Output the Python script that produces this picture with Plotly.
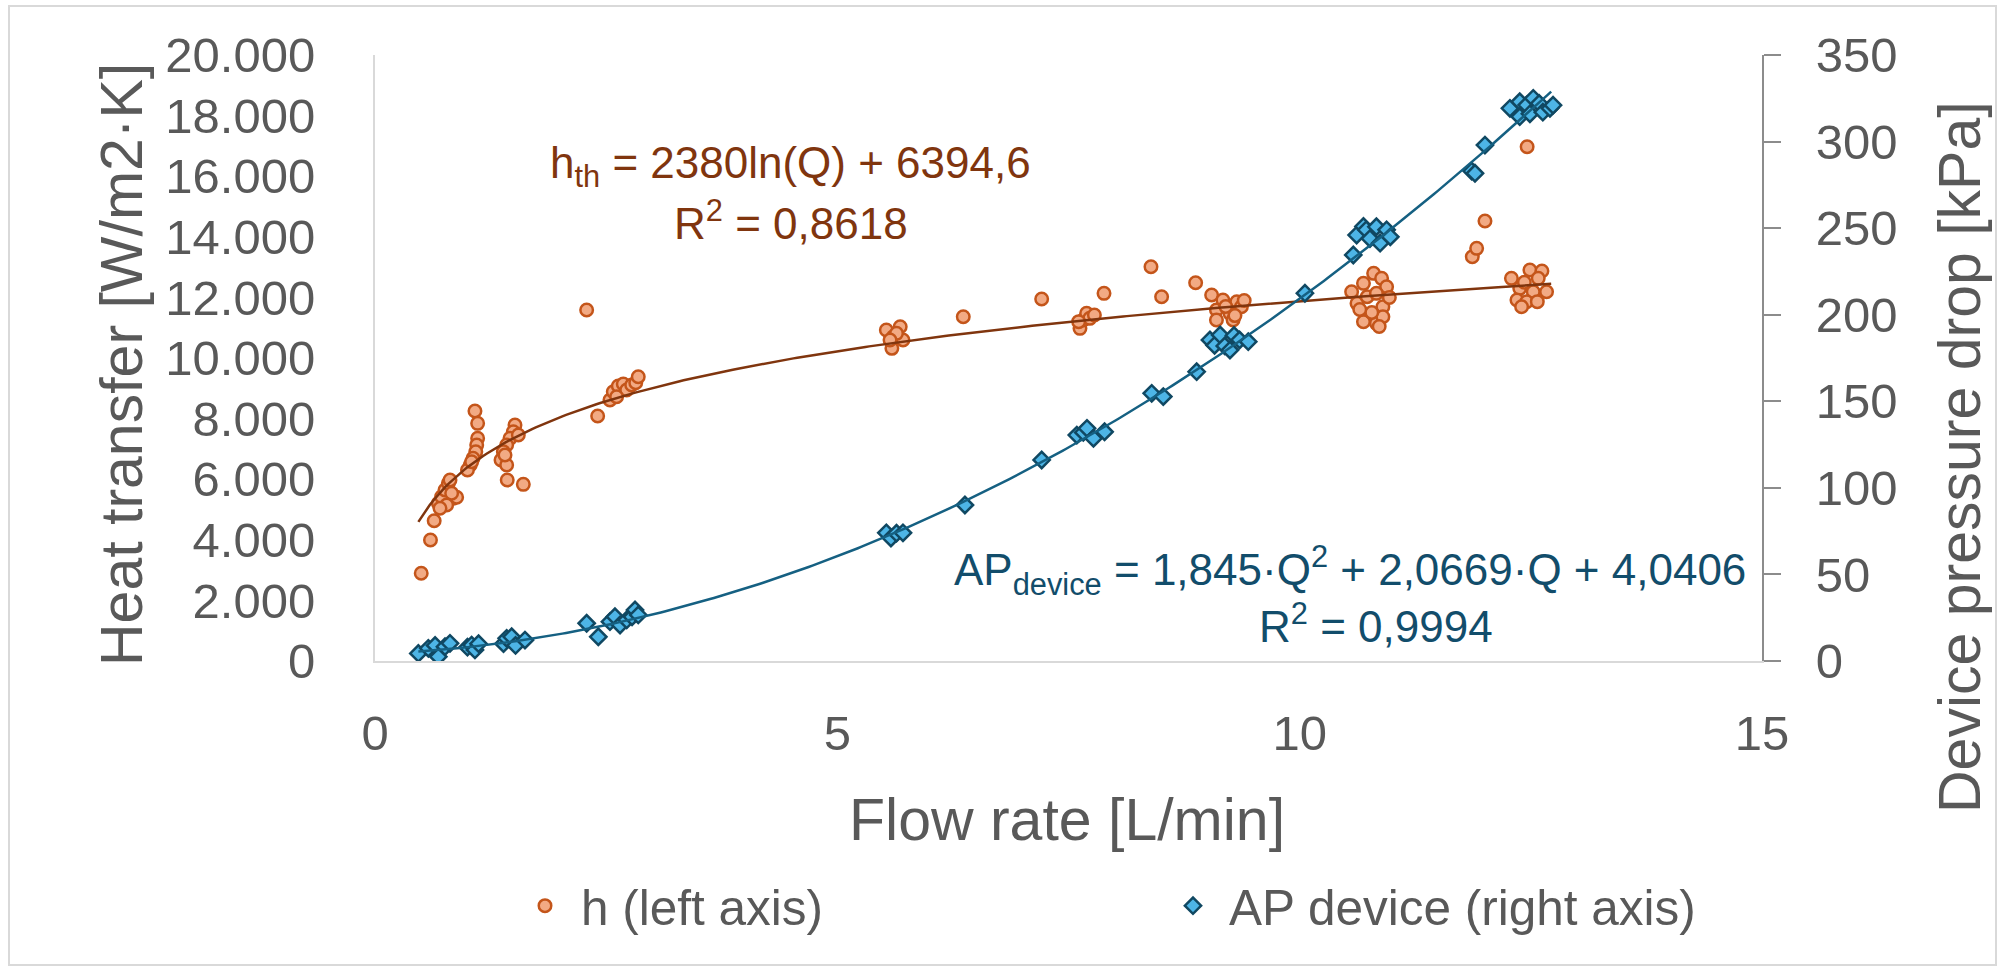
import numpy as np
import plotly.graph_objects as go

# Heat transfer coefficient h [W/m2·K] vs flow rate Q [L/min] (left axis)
h_flow = [0.50, 0.60, 0.64, 0.685, 0.72, 0.757, 0.793, 0.811, 0.847, 0.883, 0.775, 0.703, 0.829,
          1.081, 1.11, 1.11, 1.10, 1.09, 1.06, 1.03, 1.00, 1.045,
          1.514, 1.496, 1.46, 1.424, 1.388, 1.363, 1.424, 1.55, 1.406, 1.43, 1.604,
          2.408, 2.289, 2.541, 2.577, 2.631, 2.685, 2.722, 2.776, 2.82, 2.847, 2.613,
          5.53, 5.605, 5.68, 5.71, 5.59, 5.64, 5.57, 6.362, 7.21,
          7.624, 7.66, 7.696, 7.73, 7.61, 7.78, 7.884, 8.392, 8.507, 8.875, 9.048,
          9.10, 9.17, 9.246, 9.32, 9.37, 9.10, 9.28, 9.20, 9.40, 9.30,
          10.562, 10.69, 10.80, 10.886, 10.94, 10.62, 10.73, 10.83, 10.90, 10.69, 10.83, 10.90,
          10.78, 10.65, 10.97, 10.86,
          11.867, 11.914, 12.004, 12.46, 12.29, 12.49, 12.62, 12.38, 12.526, 12.67, 12.35,
          12.455, 12.40, 12.58, 12.43, 12.57]
h_value = [2894, 3993, 4630, 5203, 5422, 5643, 5863, 5973, 5369, 5402, 5148, 5039, 5534,
           8250, 7843, 7349, 7128, 6907, 6688, 6468, 6303, 6577,
           7788, 7567, 7349, 7128, 6907, 6633, 6468, 7458, 6798, 5973, 5830,
           8085, 11583, 8613, 8888, 9075, 9141, 8943, 9108, 9185, 9383, 8723,
           10923, 10702, 11032, 10593, 10319, 10814, 10593, 11362, 11946,
           10979, 11253, 11474, 11309, 11200, 11420, 12134, 13012, 12022, 12484, 12078,
           11583, 11913, 11474, 11858, 11693, 11253, 11253, 11700, 11900, 11400,
           12187, 12464, 12794, 12629, 12353, 11804, 12022, 12134, 11693, 11197, 11144, 11363,
           11500, 11600, 12000, 11040,
           13342, 13619, 14520, 16973, 12629, 12903, 12870, 12299, 12187, 12187, 11913,
           11858, 11693, 12629, 12500, 11860]

# Device pressure drop [kPa] vs flow rate Q [L/min] (right axis)
ap_flow = [0.469, 0.577, 0.65, 0.685, 0.757, 0.811, 1.00, 1.045, 1.081, 1.12,
           1.39, 1.424, 1.478, 1.52, 1.622,
           2.289, 2.415, 2.541, 2.595, 2.65, 2.722, 2.78, 2.812, 2.847,
           5.53, 5.58, 5.64, 5.71, 6.38, 7.21,
           7.59, 7.66, 7.70, 7.77, 7.89, 8.40, 8.525, 8.886,
           9.03, 9.08, 9.14, 9.19, 9.246, 9.29, 9.35, 9.444, 10.057,
           10.58, 10.616, 10.69, 10.72, 10.76, 10.83, 10.87, 10.94, 10.98,
           11.86, 11.896, 12.004, 12.274, 12.38, 12.38, 12.455, 12.49, 12.526, 12.59, 12.63,
           12.707, 12.74]
ap_value = [4.4, 7.3, 9.0, 2.5, 8.3, 10.2, 8.0, 9.2, 6.4, 10.0,
            10.0, 13.1, 14.0, 9.0, 12.1,
            21.8, 14.0, 22.7, 25.6, 20.8, 23.7, 25.5, 29.5, 26.6,
            74.0, 71.0, 73.8, 74.0, 90.1, 116.1,
            130.5, 132.0, 134.4, 128.6, 132.4, 154.6, 152.7, 167.1,
            185.4, 182.3, 188.3, 182.0, 179.6, 188.0, 185.4, 184.4, 212.4,
            234.5, 246.0, 251.0, 249.0, 244.0, 250.8, 241.3, 249.0, 245.0,
            283.0, 281.7, 298.0, 319.2, 323.0, 314.4, 321.1, 316.0, 325.0, 322.0, 317.0,
            319.2, 321.0]

# Trendline coefficients as printed in the equation labels
h_log_a, h_log_b = 2380.0, 6394.6          # h_th = a·ln(Q) + b
ap_c2, ap_c1, ap_c0 = 1.845, 2.0669, 4.0406  # AP = c2·Q² + c1·Q + c0

y_left_ticks = list(range(0, 20001, 2000))
y_right_ticks = list(range(0, 351, 50))
x_ticks = [0, 5, 10, 15]

FONT = "Liberation Sans, Arial, sans-serif"
GREY = "#595959"
ORANGE_FILL, ORANGE_EDGE, ORANGE_TREND = "#F2AA84", "#C4551A", "#80350E"
BLUE_FILL, BLUE_EDGE, BLUE_TREND, BLUE_TEXT = "#4DB5E6", "#104862", "#156082", "#124D6B"

# figure geometry (pixels)
W, H = 2005, 972
L, R, T, B = 375, 243, 55, 311
PW, PH = W - L - R, H - T - B


def px(x):
    return (x - L) / PW


def py(y):
    return (H - B - y) / PH


q_fit = np.linspace(min(min(h_flow), min(ap_flow)), 12.72, 300)
h_fit = h_log_a * np.log(q_fit) + h_log_b
ap_fit = ap_c2 * q_fit ** 2 + ap_c1 * q_fit + ap_c0

fig = go.Figure()
fig.add_trace(go.Scatter(
    x=h_flow, y=h_value, mode="markers", name="h (left axis)",
    marker=dict(symbol="circle", size=12.5, color=ORANGE_FILL,
                line=dict(color=ORANGE_EDGE, width=2.5)),
    yaxis="y"))
fig.add_trace(go.Scatter(
    x=q_fit, y=h_fit, mode="lines", showlegend=False,
    line=dict(color=ORANGE_TREND, width=2.5), yaxis="y"))
fig.add_trace(go.Scatter(
    x=ap_flow, y=ap_value, mode="markers", name="AP device (right axis)",
    marker=dict(symbol="diamond", size=12.5, color=BLUE_FILL,
                line=dict(color=BLUE_EDGE, width=2.5)),
    yaxis="y2"))
fig.add_trace(go.Scatter(
    x=q_fit, y=ap_fit, mode="lines", showlegend=False,
    line=dict(color=BLUE_TREND, width=2.5), yaxis="y2"))

annotations = [
    dict(text="Heat transfer [W/m2·K]", x=px(122), y=py(365), textangle=-90,
         font=dict(size=59, color=GREY)),
    dict(text="Device pressure drop [kPa]", x=px(1960), y=py(457), textangle=-90,
         font=dict(size=59, color=GREY)),
    dict(text="Flow rate [L/min]", x=px(1067), y=py(820),
         font=dict(size=59, color=GREY)),
    dict(text="h<sub>th</sub> = 2380ln(Q) + 6394,6", x=px(790), y=py(166),
         font=dict(size=44, color=ORANGE_TREND)),
    dict(text="R<sup>2</sup> = 0,8618", x=px(791), y=py(220),
         font=dict(size=44, color=ORANGE_TREND)),
    dict(text="AP<sub>device</sub> = 1,845·Q<sup>2</sup> + 2,0669·Q + 4,0406", x=px(1350), y=py(570),
         font=dict(size=44, color=BLUE_TEXT)),
    dict(text="R<sup>2</sup> = 0,9994", x=px(1376), y=py(623),
         font=dict(size=44, color=BLUE_TEXT)),
]
for a in annotations:
    a.update(xref="paper", yref="paper", showarrow=False, xanchor="center", yanchor="middle")

fig.update_layout(
    width=W, height=H,
    margin=dict(l=L, r=R, t=T, b=B, pad=0),
    paper_bgcolor="white", plot_bgcolor="white",
    font=dict(family=FONT, color=GREY),
    separators=",.",
    showlegend=True,
    legend=dict(orientation="h", x=px(509), xanchor="left", y=py(906), yanchor="middle",
                font=dict(size=49.5, color=GREY), itemwidth=62,
                entrywidth=571, entrywidthmode="pixels",
                bgcolor="rgba(0,0,0,0)"),
    xaxis=dict(range=[0, 15], tickvals=x_ticks, showgrid=False, zeroline=False,
               showline=True, linecolor="#D9D9D9", linewidth=2, ticks="",
               tickfont=dict(size=49, color=GREY), ticklabelstandoff=28),
    yaxis=dict(range=[0, 20000], tickvals=y_left_ticks, tickformat=",d",
               showgrid=False, zeroline=False, showline=True, linecolor="#D9D9D9",
               linewidth=2, ticks="", tickfont=dict(size=49, color=GREY),
               ticklabelstandoff=48),
    yaxis2=dict(range=[0, 350], tickvals=y_right_ticks, overlaying="y", side="right",
                showgrid=False, zeroline=False, showline=True, linecolor="#8C8C8C",
                linewidth=2, ticks="outside", ticklen=17, tickwidth=2, tickcolor="#8C8C8C",
                tickfont=dict(size=49, color=GREY), ticklabelstandoff=25),
    annotations=annotations,
    shapes=[dict(type="rect", xref="paper", yref="paper",
                 x0=px(9), x1=px(1996), y0=py(965), y1=py(6),
                 line=dict(color="#D9D9D9", width=2), layer="below")],
)

fig.write_html("out.html")
